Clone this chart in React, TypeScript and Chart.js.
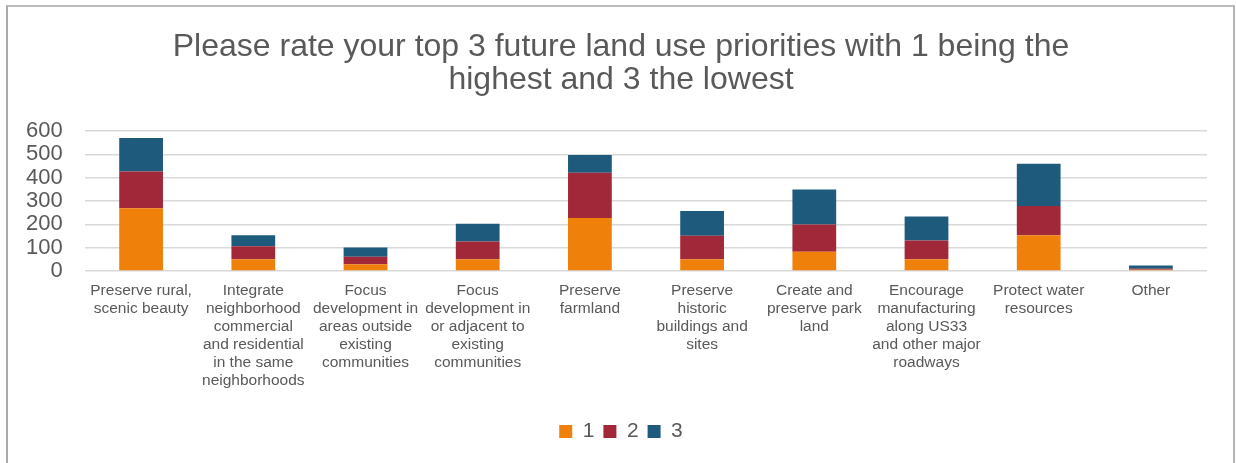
import React, { useEffect, useRef } from "react";
import { Chart, registerables } from "chart.js";

Chart.register(...registerables);

const categories: string[][] = [
  ["Preserve rural,", "scenic beauty"],
  ["Integrate", "neighborhood", "commercial", "and residential", "in the same", "neighborhoods"],
  ["Focus", "development in", "areas outside", "existing", "communities"],
  ["Focus", "development in", "or adjacent to", "existing", "communities"],
  ["Preserve", "farmland"],
  ["Preserve", "historic", "buildings and", "sites"],
  ["Create and", "preserve park", "land"],
  ["Encourage", "manufacturing", "along US33", "and other major", "roadways"],
  ["Protect water", "resources"],
  ["Other"],
];

const rank1: number[] = [269, 51, 29, 51, 227, 51, 83, 51, 153, 6];
const rank2: number[] = [157, 55, 32, 76, 194, 100, 117, 80, 126, 4];
const rank3: number[] = [144, 47, 40, 76, 76, 106, 149, 103, 181, 14];

const seriesNames: string[] = ["1", "2", "3"];
const titleLines: string[] = [
  "Please rate your top 3 future land use priorities with 1 being the",
  "highest and 3 the lowest",
];

const FONT = "'Liberation Sans', Arial, sans-serif";
const TEXT = "#595959";

export default function App() {
  const ref = useRef<HTMLCanvasElement | null>(null);

  useEffect(() => {
    if (!ref.current) return;
    const chart = new Chart(ref.current, {
      type: "bar",
      data: {
        labels: categories,
        datasets: [
          { label: seriesNames[0], data: rank1, backgroundColor: "#EF800A", barPercentage: 0.78, categoryPercentage: 0.5 },
          { label: seriesNames[1], data: rank2, backgroundColor: "#A12838", barPercentage: 0.78, categoryPercentage: 0.5 },
          { label: seriesNames[2], data: rank3, backgroundColor: "#1E5A7C", barPercentage: 0.78, categoryPercentage: 0.5 },
        ],
      },
      options: {
        animation: false,
        responsive: true,
        maintainAspectRatio: false,
        layout: { padding: { top: 18, right: 29, bottom: 11, left: 35 } },
        plugins: {
          title: {
            display: true,
            text: titleLines,
            color: TEXT,
            font: { family: FONT, size: 32, weight: "normal", lineHeight: 1.03 },
            padding: { top: 13, bottom: 34 },
          },
          legend: {
            position: "bottom",
            labels: {
              color: TEXT,
              font: { family: FONT, size: 21 },
              boxWidth: 13,
              boxHeight: 13,
              padding: 9,
            },
          },
          tooltip: { enabled: false },
        },
        scales: {
          x: {
            stacked: true,
            grid: { display: false, drawTicks: false },
            border: { display: false },
            afterFit: (scale: any) => {
              scale.height += 11;
            },
            ticks: {
              color: TEXT,
              font: { family: FONT, size: 15.5, lineHeight: 1.16 },
              padding: 11,
              maxRotation: 0,
              autoSkip: false,
            },
          },
          y: {
            stacked: true,
            min: 0,
            max: 600,
            afterFit: (scale: any) => {
              scale.width = 50;
            },
            grid: { color: "#d9d9d9", lineWidth: 1.5, drawTicks: false },
            border: { display: false },
            ticks: {
              stepSize: 100,
              autoSkip: false,
              mirror: true,
              crossAlign: "far",
              color: TEXT,
              font: { family: FONT, size: 22 },
              padding: -59,
            },
          },
        },
      },
    });
    return () => chart.destroy();
  }, []);

  return (
    <div style={{ position: "fixed", left: 0, top: 0, width: 1236, height: 463, background: "#fff" }}>
      <div
        style={{
          position: "absolute",
          left: 6,
          top: 5,
          width: 1229,
          height: 470,
          borderLeft: "2px solid #aaaaaa",
          borderRight: "2px solid #b4b4b4",
          borderTop: "2px solid #bbbbbb",
          boxSizing: "border-box",
        }}
      />
      <div style={{ position: "absolute", left: 0, top: 0, width: 1236, height: 463 }}>
        <canvas ref={ref} />
      </div>
    </div>
  );
}
